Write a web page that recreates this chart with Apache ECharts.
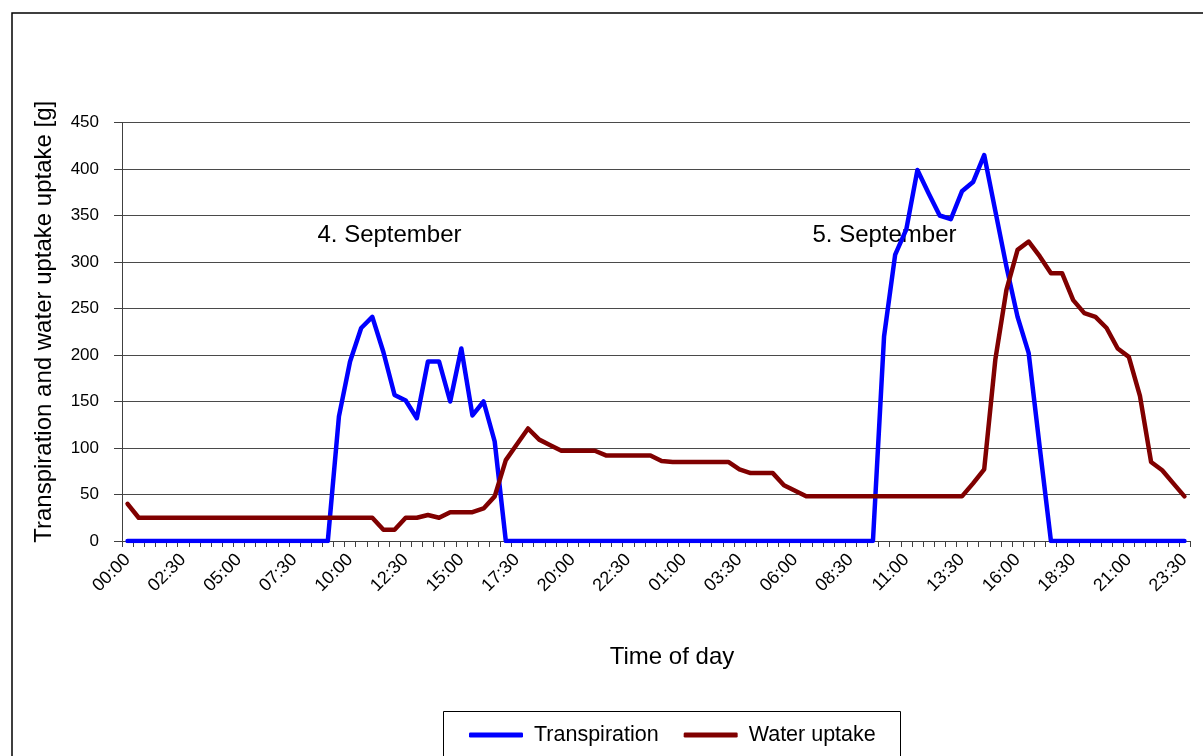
<!DOCTYPE html>
<html>
<head>
<meta charset="utf-8">
<script src="https://cdn.jsdelivr.net/npm/echarts@6/dist/echarts.min.js"></script>
<style>
html,body{margin:0;padding:0;background:#fff;}
#chart{width:1203px;height:756px;}
</style>
</head>
<body>
<div id="chart"></div>
<script>
// Categories: half-hourly, 4. September 00:00 to 5. September 23:30
const categories = [
"00:00","00:30","01:00","01:30","02:00","02:30","03:00","03:30","04:00","04:30","05:00","05:30",
"06:00","06:30","07:00","07:30","08:00","08:30","09:00","09:30","10:00","10:30","11:00","11:30",
"12:00","12:30","13:00","13:30","14:00","14:30","15:00","15:30","16:00","16:30","17:00","17:30",
"18:00","18:30","19:00","19:30","20:00","20:30","21:00","21:30","22:00","22:30","23:00","23:30",
"00:00","00:30","01:00","01:30","02:00","02:30","03:00","03:30","04:00","04:30","05:00","05:30",
"06:00","06:30","07:00","07:30","08:00","08:30","09:00","09:30","10:00","10:30","11:00","11:30",
"12:00","12:30","13:00","13:30","14:00","14:30","15:00","15:30","16:00","16:30","17:00","17:30",
"18:00","18:30","19:00","19:30","20:00","20:30","21:00","21:30","22:00","22:30","23:00","23:30"
];

const transpiration = [
0,0,0,0,0,0,0,0,0,0,0,0,
0,0,0,0,0,0,0,134,193,229,241,203,
157,151,132,193,193,150,207,135,150,107,0,0,
0,0,0,0,0,0,0,0,0,0,0,0,
0,0,0,0,0,0,0,0,0,0,0,0,
0,0,0,0,0,0,0,0,220,308,335,399,
374,350,346,376,386,415,355,295,241,202,100,0,
0,0,0,0,0,0,0,0,0,0,0,0
];

const waterUptake = [
40,25,25,25,25,25,25,25,25,25,25,25,
25,25,25,25,25,25,25,25,25,25,25,12,
12,25,25,28,25,31,31,31,35,48,87,104,
121,109,103,97,97,97,97,92,92,92,92,92,
86,85,85,85,85,85,85,77,73,73,73,60,
54,48,48,48,48,48,48,48,48,48,48,48,
48,48,48,48,62,77,195,270,313,322,306,288,
288,259,245,241,229,207,198,156,85,76,62,48
];

const yTicks = {min: 0, max: 450, interval: 50};
const seriesNames = ["Transpiration", "Water uptake"];
const annotations = ["4. September", "5. September"];

const FONT = "'Liberation Sans', Arial, sans-serif";
const chart = echarts.init(document.getElementById('chart'), null, {renderer: 'canvas'});

const option = {
  animation: false,
  backgroundColor: '#ffffff',
  textStyle: {fontFamily: FONT, color: '#000'},
  grid: {left: 122, right: 13, top: 122.5, bottom: 215, containLabel: false},
  xAxis: {
    type: 'category',
    data: categories,
    boundaryGap: true,
    name: 'Time of day',
    nameLocation: 'middle',
    nameGap: 104,
    nameTextStyle: {fontFamily: FONT, fontSize: 24, color: '#000', padding: [0, 0, 0, 32]},
    axisLine: {lineStyle: {color: '#404040', width: 1}},
    axisTick: {show: true, interval: 0, length: 6, inside: false, lineStyle: {color: '#404040'}},
    axisLabel: {interval: 4, rotate: 45, fontSize: 18, margin: 16, color: '#000', fontFamily: FONT},
    splitLine: {show: false}
  },
  yAxis: {
    type: 'value',
    min: yTicks.min, max: yTicks.max, interval: yTicks.interval,
    name: 'Transpiration and water uptake uptake [g]',
    nameLocation: 'middle',
    nameRotate: 90,
    nameGap: 66,
    nameTextStyle: {fontFamily: FONT, fontSize: 24, color: '#000', padding: [0, 0, 0, 20]},
    axisLine: {show: true, lineStyle: {color: '#404040', width: 1}},
    axisTick: {show: true, length: 8, inside: false, lineStyle: {color: '#404040'}},
    axisLabel: {fontSize: 17, margin: 23, color: '#000', fontFamily: FONT},
    splitLine: {show: true, lineStyle: {color: '#4a4a4a', width: 1}}
  },
  legend: {
    data: seriesNames,
    left: 469,
    top: 724,
    padding: 0,
    icon: 'roundRect',
    itemWidth: 54,
    itemHeight: 5,
    itemGap: 25,
    textStyle: {fontFamily: FONT, fontSize: 21.5, color: '#000', padding: [0, 0, 0, 6]}
  },
  graphic: [
    {type: 'rect', z: 0, silent: true, shape: {x: 12, y: 13, width: 1300, height: 900},
     style: {fill: 'none', stroke: '#000', lineWidth: 1.5}},
    {type: 'rect', z: 0, silent: true, shape: {x: 443.5, y: 711.5, width: 457, height: 80},
     style: {fill: '#fff', stroke: '#000', lineWidth: 1}},
    {type: 'text', z: 0, silent: true, x: 389.5, y: 235,
     style: {text: annotations[0], font: '24px ' + FONT, fill: '#000', align: 'center', verticalAlign: 'middle'}},
    {type: 'text', z: 0, silent: true, x: 884.5, y: 235,
     style: {text: annotations[1], font: '24px ' + FONT, fill: '#000', align: 'center', verticalAlign: 'middle'}}
  ],
  series: [
    {name: seriesNames[0], type: 'line', data: transpiration, symbol: 'none', showSymbol: false,
     lineStyle: {color: '#0000FF', width: 4.5, cap: 'round', join: 'round'}, itemStyle: {color: '#0000FF'}, z: 3},
    {name: seriesNames[1], type: 'line', data: waterUptake, symbol: 'none', showSymbol: false,
     lineStyle: {color: '#800000', width: 4.5, cap: 'round', join: 'round'}, itemStyle: {color: '#800000'}, z: 4}
  ]
};
chart.setOption(option);
</script>
</body>
</html>
